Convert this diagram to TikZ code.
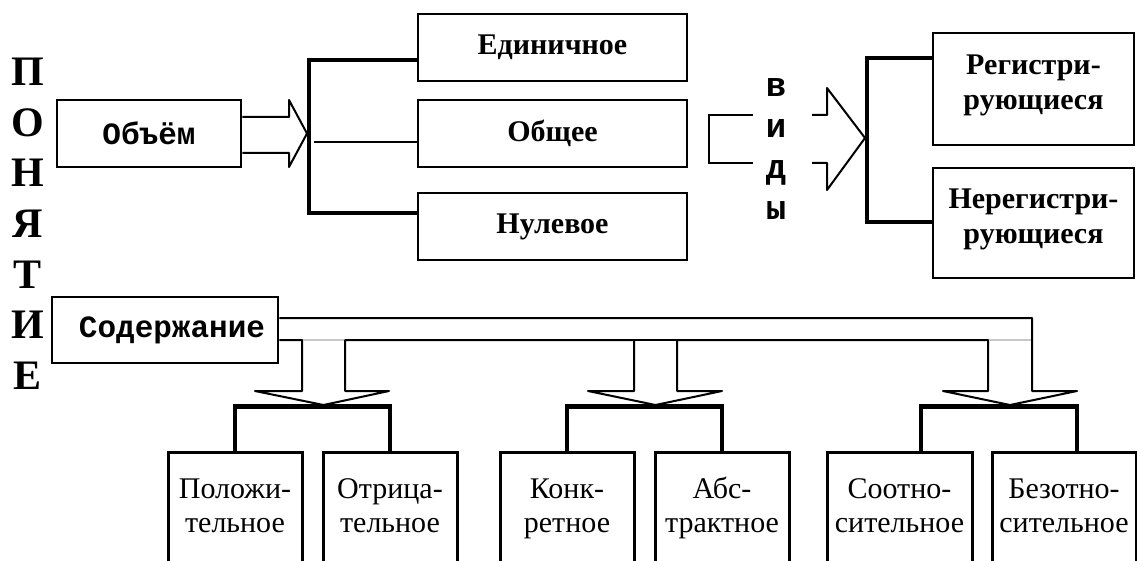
\documentclass[tikz,border=0pt]{standalone}
\usepackage{fontspec}
\setmainfont{Liberation Serif}
\setmonofont{Liberation Mono}
\newcommand{\topstrut}{\rule{0pt}{0.75em}}
\begin{document}
\begin{tikzpicture}[x=1pt,y=-1pt,
  box/.style={draw, line width=2.8pt, inner sep=0pt},
  lbox/.style={draw, line width=3pt, inner sep=0pt, minimum height=168pt},
  thickln/.style={line width=4.6pt, line join=miter},
  thinln/.style={line width=2pt, line join=round},
  grayln/.style={line width=2pt, draw=black!22},
  btxt/.style={font=\fontsize{30}{35}\selectfont\bfseries, align=center, inner sep=0pt},
  ltxt/.style={font=\fontsize{30}{34}\selectfont, align=center, inner sep=0pt},
  ctxt/.style={font=\fontsize{31}{34}\selectfont\ttfamily\bfseries},
  vtxt/.style={font=\fontsize{34}{36}\selectfont\ttfamily\bfseries, inner sep=0pt, anchor=base},
  ptxt/.style={font=\fontsize{42}{44}\selectfont\bfseries, inner sep=0pt}
]
\clip (0,0) rectangle (1137,561);
\fill[white] (0,0) rectangle (1137,561);

% vertical word
\node[ptxt] (p1) at (28,72) {П};
\node[ptxt] (p2) at (28,123) {О};
\node[ptxt] (p3) at (28,173) {Н};
\node[ptxt] (p4) at (28,224) {Я};
\node[ptxt] (p5) at (28,275) {Т};
\node[ptxt] (p6) at (28,325) {И};
\node[ptxt] (p7) at (28,376) {Е};

% top boxes
\node[box, minimum width=184pt, minimum height=67pt, ctxt] (obj) at (149,133.5) {Объём};
\node[box, minimum width=269pt, minimum height=67pt, btxt] (edin) at (552.5,47.5) {Единичное};
\node[box, minimum width=269pt, minimum height=67pt, btxt] (obsh) at (552.5,133.5) {Общее};
\node[box, minimum width=269pt, minimum height=67pt, btxt] (nul) at (552.5,226.5) {Нулевое};
\node[box, minimum width=201pt, minimum height=112pt] (reg) at (1033.5,89) {};
\node[box, minimum width=201pt, minimum height=110pt] (nereg) at (1033.5,223) {};
\node[btxt, anchor=north] (regT) at ([yshift=-20pt]reg.north) {\topstrut Регистри-\\рующиеся};
\node[btxt, anchor=north] (neregT) at ([yshift=-19pt]nereg.north) {\topstrut Нерегистри-\\рующиеся};

% arrow from Объём
\draw[thinln] ([yshift=16.5pt]obj.east) -- (289,117) -- (289,100) -- (307,133.5) -- (289,167) -- (289,153) -- ([yshift=-19.5pt]obj.east);
% bracket to the three kinds
\draw[thickln] ([yshift=-12.5pt]edin.west) -- (309,60) -- (309,213) -- ([yshift=13.5pt]nul.west);
\draw[thinln] (314,142) -- ([yshift=-8.5pt]obsh.west);

% виды
\node[vtxt] (v1) at (776,97) {в};
\node[vtxt] (v2) at (776,138) {и};
\node[vtxt] (v3) at (776,179) {д};
\node[vtxt] (v4) at (776,220) {ы};
\draw[thinln, line join=miter] (753,115) -- (709,115) -- (709,163) -- (753,163);
\draw[thinln] (812,115) -- (827,115) -- (827,88) -- (865,138) -- (827,190) -- (827,163) -- (812,163);
\draw[thickln] ([yshift=31pt]reg.west) -- (867,58) -- (867,222) -- ([yshift=1pt]nereg.west);

% Содержание
\node[box, minimum width=226pt, minimum height=66pt, ctxt] (soder) at (165,330) {\hspace*{14pt}Содержание};

% lower boxes
\node[lbox, minimum width=134pt] (pol) at (235,536) {};
\node[lbox, minimum width=134pt] (otr) at (390,536) {};
\node[lbox, minimum width=134pt] (konk) at (567,536) {};
\node[lbox, minimum width=134pt] (abs) at (722,536) {};
\node[lbox, minimum width=145pt] (soot) at (899.5,536) {};
\node[lbox, minimum width=144pt] (bez) at (1064,536) {};
\node[ltxt, anchor=north] (polT) at ([yshift=-25pt]pol.north) {\topstrut Положи-\\тельное};
\node[ltxt, anchor=north] (otrT) at ([yshift=-25pt]otr.north) {\topstrut Отрица-\\тельное};
\node[ltxt, anchor=north] (konkT) at ([yshift=-25pt]konk.north) {\topstrut Конк-\\ретное};
\node[ltxt, anchor=north] (absT) at ([yshift=-25pt]abs.north) {\topstrut Абс-\\трактное};
\node[ltxt, anchor=north] (sootT) at ([yshift=-25pt]soot.north) {\topstrut Соотно-\\сительное};
\node[ltxt, anchor=north] (bezT) at ([yshift=-25pt]bez.north) {\topstrut Безотно-\\сительное};

% double line with three arrows
\draw[thinln] ([yshift=-10pt]soder.east) -- (302,340) -- (302,391) -- (255,391) -- (323.5,405) -- (389,391) -- (345,391) -- (345,340)
  -- (634,340) -- (634,391) -- (588,391) -- (655.5,405) -- (722,391) -- (677,391) -- (677,340)
  -- (988,340) -- (988,391) -- (943,391) -- (1010,405) -- (1077,391) -- (1032,391) -- (1032,318)
  -- ([yshift=12pt]soder.east);
\draw[thinln] (634,340) -- (677,340);
\draw[grayln] (303,340) -- (344,340);
\draw[grayln] (989,340) -- (1031,340);

% lower brackets
\draw[thickln] (pol.north) -- ++(0,-44) -| (otr.north);
\draw[thickln] (konk.north) -- ++(0,-44) -| (abs.north);
\draw[thickln] ([xshift=21.5pt]soot.north) -- ++(0,-44) -| ([xshift=13pt]bez.north);
\end{tikzpicture}
\end{document}
